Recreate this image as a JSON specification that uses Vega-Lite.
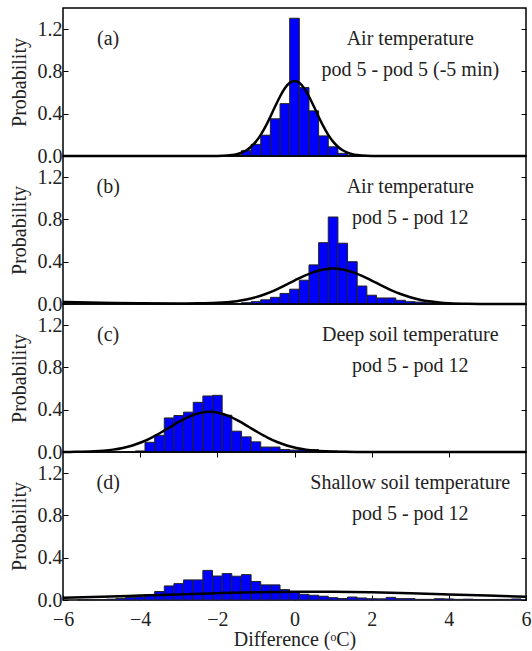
{
  "$schema": "https://vega.github.io/schema/vega-lite/v6.json",
  "padding": {"left": 8, "top": 7, "right": 0, "bottom": 0},
  "bounds": "flush",
  "spacing": 0,
  "datasets": {
    "barsA": [
      {"x": -1.625, "xe": -1.375, "p": 0.01},
      {"x": -1.375, "xe": -1.125, "p": 0.05},
      {"x": -1.125, "xe": -0.875, "p": 0.11},
      {"x": -0.875, "xe": -0.625, "p": 0.197},
      {"x": -0.625, "xe": -0.375, "p": 0.352},
      {"x": -0.375, "xe": -0.125, "p": 0.495},
      {"x": -0.125, "xe": 0.125, "p": 1.303},
      {"x": 0.125, "xe": 0.375, "p": 0.647},
      {"x": 0.375, "xe": 0.625, "p": 0.427},
      {"x": 0.625, "xe": 0.875, "p": 0.19},
      {"x": 0.875, "xe": 1.125, "p": 0.087},
      {"x": 1.125, "xe": 1.375, "p": 0.025},
      {"x": 1.375, "xe": 1.625, "p": 0.005}
    ],
    "curveA": [
      {"x": -6, "p": 0}, {"x": -2.5, "p": 0}, {"x": -2.0, "p": 0.001}, {"x": -1.75, "p": 0.0045},
      {"x": -1.625, "p": 0.009}, {"x": -1.5, "p": 0.017}, {"x": -1.375, "p": 0.031}, {"x": -1.25, "p": 0.054},
      {"x": -1.125, "p": 0.088}, {"x": -1.0, "p": 0.136}, {"x": -0.875, "p": 0.2}, {"x": -0.75, "p": 0.28},
      {"x": -0.625, "p": 0.372}, {"x": -0.5, "p": 0.47}, {"x": -0.375, "p": 0.563}, {"x": -0.25, "p": 0.64},
      {"x": -0.125, "p": 0.692}, {"x": 0, "p": 0.71}, {"x": 0.125, "p": 0.692}, {"x": 0.25, "p": 0.64},
      {"x": 0.375, "p": 0.563}, {"x": 0.5, "p": 0.47}, {"x": 0.625, "p": 0.372}, {"x": 0.75, "p": 0.28},
      {"x": 0.875, "p": 0.2}, {"x": 1.0, "p": 0.136}, {"x": 1.125, "p": 0.088}, {"x": 1.25, "p": 0.054},
      {"x": 1.375, "p": 0.031}, {"x": 1.5, "p": 0.017}, {"x": 1.625, "p": 0.009}, {"x": 1.75, "p": 0.0045},
      {"x": 2.0, "p": 0.001}, {"x": 2.5, "p": 0}, {"x": 6, "p": 0}
    ],
    "barsB": [
      {"x": -1.375, "xe": -1.125, "p": 0.012},
      {"x": -1.125, "xe": -0.875, "p": 0.022},
      {"x": -0.875, "xe": -0.625, "p": 0.04},
      {"x": -0.625, "xe": -0.375, "p": 0.063},
      {"x": -0.375, "xe": -0.125, "p": 0.1},
      {"x": -0.125, "xe": 0.125, "p": 0.14},
      {"x": 0.125, "xe": 0.375, "p": 0.225},
      {"x": 0.375, "xe": 0.625, "p": 0.37},
      {"x": 0.625, "xe": 0.875, "p": 0.58},
      {"x": 0.875, "xe": 1.125, "p": 0.823},
      {"x": 1.125, "xe": 1.375, "p": 0.575},
      {"x": 1.375, "xe": 1.625, "p": 0.4},
      {"x": 1.625, "xe": 1.875, "p": 0.17},
      {"x": 1.875, "xe": 2.125, "p": 0.083},
      {"x": 2.125, "xe": 2.375, "p": 0.057},
      {"x": 2.375, "xe": 2.625, "p": 0.057},
      {"x": 2.625, "xe": 2.875, "p": 0.035},
      {"x": 2.875, "xe": 3.125, "p": 0.022},
      {"x": 3.125, "xe": 3.375, "p": 0.018},
      {"x": 3.375, "xe": 3.625, "p": 0.012}
    ],
    "curveB": [
      {"x": -6, "p": 0.018}, {"x": -5, "p": 0.012}, {"x": -4, "p": 0.007}, {"x": -3, "p": 0.005},
      {"x": -2.5, "p": 0.006}, {"x": -2.0, "p": 0.011}, {"x": -1.75, "p": 0.017}, {"x": -1.5, "p": 0.027},
      {"x": -1.25, "p": 0.042}, {"x": -1.0, "p": 0.065}, {"x": -0.75, "p": 0.095}, {"x": -0.5, "p": 0.132},
      {"x": -0.25, "p": 0.176}, {"x": 0, "p": 0.222}, {"x": 0.25, "p": 0.266}, {"x": 0.5, "p": 0.302},
      {"x": 0.75, "p": 0.327}, {"x": 1.0, "p": 0.335}, {"x": 1.25, "p": 0.327}, {"x": 1.5, "p": 0.302},
      {"x": 1.75, "p": 0.266}, {"x": 2.0, "p": 0.222}, {"x": 2.25, "p": 0.176}, {"x": 2.5, "p": 0.132},
      {"x": 2.75, "p": 0.095}, {"x": 3.0, "p": 0.064}, {"x": 3.25, "p": 0.041}, {"x": 3.5, "p": 0.025},
      {"x": 3.75, "p": 0.015}, {"x": 4.0, "p": 0.008}, {"x": 4.5, "p": 0.002}, {"x": 5.0, "p": 0.0005},
      {"x": 6, "p": 0}
    ],
    "barsC": [
      {"x": -4.125, "xe": -3.875, "p": 0.01},
      {"x": -3.875, "xe": -3.625, "p": 0.092},
      {"x": -3.625, "xe": -3.375, "p": 0.158},
      {"x": -3.375, "xe": -3.125, "p": 0.322},
      {"x": -3.125, "xe": -2.875, "p": 0.345},
      {"x": -2.875, "xe": -2.625, "p": 0.377},
      {"x": -2.625, "xe": -2.375, "p": 0.47},
      {"x": -2.375, "xe": -2.125, "p": 0.53},
      {"x": -2.125, "xe": -1.875, "p": 0.536},
      {"x": -1.875, "xe": -1.625, "p": 0.348},
      {"x": -1.625, "xe": -1.375, "p": 0.197},
      {"x": -1.375, "xe": -1.125, "p": 0.143},
      {"x": -1.125, "xe": -0.875, "p": 0.096},
      {"x": -0.875, "xe": -0.625, "p": 0.047},
      {"x": -0.625, "xe": -0.375, "p": 0.047},
      {"x": -0.375, "xe": -0.125, "p": 0.024},
      {"x": -0.125, "xe": 0.125, "p": 0.018},
      {"x": 0.125, "xe": 0.375, "p": 0.022},
      {"x": 0.375, "xe": 0.625, "p": 0.022},
      {"x": 0.625, "xe": 0.875, "p": 0.013},
      {"x": 0.875, "xe": 1.125, "p": 0.009},
      {"x": 1.125, "xe": 1.375, "p": 0.006},
      {"x": 1.375, "xe": 1.625, "p": 0.004}
    ],
    "curveC": [
      {"x": -6, "p": 0.0004}, {"x": -5.7, "p": 0.0015}, {"x": -5.2, "p": 0.0064}, {"x": -4.95, "p": 0.0123},
      {"x": -4.7, "p": 0.0224}, {"x": -4.45, "p": 0.0383}, {"x": -4.2, "p": 0.062}, {"x": -3.95, "p": 0.0948},
      {"x": -3.7, "p": 0.137}, {"x": -3.45, "p": 0.187}, {"x": -3.2, "p": 0.241}, {"x": -2.95, "p": 0.294},
      {"x": -2.7, "p": 0.339}, {"x": -2.45, "p": 0.369}, {"x": -2.2, "p": 0.38}, {"x": -1.95, "p": 0.369},
      {"x": -1.7, "p": 0.339}, {"x": -1.45, "p": 0.294}, {"x": -1.2, "p": 0.241}, {"x": -0.95, "p": 0.187},
      {"x": -0.7, "p": 0.137}, {"x": -0.45, "p": 0.0948}, {"x": -0.2, "p": 0.062}, {"x": 0.05, "p": 0.0383},
      {"x": 0.3, "p": 0.0224}, {"x": 0.55, "p": 0.0123}, {"x": 0.8, "p": 0.0064}, {"x": 1.3, "p": 0.0015},
      {"x": 1.8, "p": 0.0003}, {"x": 6, "p": 0}
    ],
    "barsD": [
      {"x": -5.625, "xe": -5.375, "p": 0.002},
      {"x": -5.375, "xe": -5.125, "p": 0.003},
      {"x": -5.125, "xe": -4.875, "p": 0.004},
      {"x": -4.875, "xe": -4.625, "p": 0.008},
      {"x": -4.625, "xe": -4.375, "p": 0.016},
      {"x": -4.375, "xe": -4.125, "p": 0.026},
      {"x": -4.125, "xe": -3.875, "p": 0.03},
      {"x": -3.875, "xe": -3.625, "p": 0.048},
      {"x": -3.625, "xe": -3.375, "p": 0.08},
      {"x": -3.375, "xe": -3.125, "p": 0.133},
      {"x": -3.125, "xe": -2.875, "p": 0.155},
      {"x": -2.875, "xe": -2.625, "p": 0.19},
      {"x": -2.625, "xe": -2.375, "p": 0.19},
      {"x": -2.375, "xe": -2.125, "p": 0.28},
      {"x": -2.125, "xe": -1.875, "p": 0.227},
      {"x": -1.875, "xe": -1.625, "p": 0.25},
      {"x": -1.625, "xe": -1.375, "p": 0.225},
      {"x": -1.375, "xe": -1.125, "p": 0.24},
      {"x": -1.125, "xe": -0.875, "p": 0.175},
      {"x": -0.875, "xe": -0.625, "p": 0.143},
      {"x": -0.625, "xe": -0.375, "p": 0.143},
      {"x": -0.375, "xe": -0.125, "p": 0.098},
      {"x": -0.125, "xe": 0.125, "p": 0.07},
      {"x": 0.125, "xe": 0.375, "p": 0.054},
      {"x": 0.375, "xe": 0.625, "p": 0.045},
      {"x": 0.625, "xe": 0.875, "p": 0.036},
      {"x": 0.875, "xe": 1.125, "p": 0.022},
      {"x": 1.125, "xe": 1.375, "p": 0.014},
      {"x": 1.375, "xe": 1.625, "p": 0.028},
      {"x": 1.625, "xe": 1.875, "p": 0.019},
      {"x": 1.875, "xe": 2.125, "p": 0.012},
      {"x": 2.125, "xe": 2.375, "p": 0.011},
      {"x": 2.375, "xe": 2.625, "p": 0.025},
      {"x": 2.625, "xe": 2.875, "p": 0.013},
      {"x": 2.875, "xe": 3.125, "p": 0.013},
      {"x": 3.125, "xe": 3.375, "p": 0.006},
      {"x": 3.375, "xe": 3.625, "p": 0.006},
      {"x": 3.625, "xe": 3.875, "p": 0.012},
      {"x": 3.875, "xe": 4.125, "p": 0.01},
      {"x": 4.125, "xe": 4.375, "p": 0.006},
      {"x": 4.375, "xe": 4.625, "p": 0.008},
      {"x": 4.625, "xe": 4.875, "p": 0.005},
      {"x": 4.875, "xe": 5.125, "p": 0.005},
      {"x": 5.125, "xe": 5.375, "p": 0.006},
      {"x": 5.375, "xe": 5.625, "p": 0.006},
      {"x": 5.625, "xe": 5.875, "p": 0.01}
    ],
    "curveD": [
      {"x": -6, "p": 0.0208}, {"x": -5, "p": 0.0303}, {"x": -4, "p": 0.0414}, {"x": -3, "p": 0.0532},
      {"x": -2, "p": 0.0642}, {"x": -1, "p": 0.0727}, {"x": 0, "p": 0.0774}, {"x": 0.5, "p": 0.078},
      {"x": 1, "p": 0.0774}, {"x": 2, "p": 0.0727}, {"x": 3, "p": 0.0642}, {"x": 4, "p": 0.0532},
      {"x": 5, "p": 0.0414}, {"x": 6, "p": 0.0303}
    ]
  },
  "vconcat": [
    {
      "width": 463, "height": 148,
      "layer": [
        {"data": {"name": "barsA"}, "mark": {"type": "bar", "fill": "#0000ff", "stroke": "#222", "strokeWidth": 1},
         "encoding": {
           "x": {"field": "x", "type": "quantitative", "scale": {"domain": [-6, 6]}, "axis": null},
           "x2": {"field": "xe"},
           "y": {"field": "p", "type": "quantitative", "scale": {"domain": [0, 1.4]},
                 "axis": {"orient": "left", "values": [0, 0.4, 0.8, 1.2], "format": ".1f", "title": "Probability"}},
           "y2": {"datum": 0}}},
        {"data": {"name": "curveA"}, "mark": {"type": "line", "color": "#000", "strokeWidth": 2.5, "interpolate": "monotone"},
         "encoding": {
           "x": {"field": "x", "type": "quantitative", "axis": null},
           "y": {"field": "p", "type": "quantitative", "axis": {"orient": "right", "values": [0, 0.4, 0.8, 1.2], "labels": false, "title": null}}}},
        {"data": {"values": [{}]}, "mark": {"type": "text", "text": "(a)"},
         "encoding": {"x": {"datum": -4.83, "type": "quantitative", "axis": null}, "y": {"datum": 1.105, "type": "quantitative", "axis": null}}},
        {"data": {"values": [{}]}, "mark": {"type": "text", "text": "Air temperature"},
         "encoding": {"x": {"datum": 3.0, "type": "quantitative", "axis": null}, "y": {"datum": 1.105, "type": "quantitative", "axis": null}}},
        {"data": {"values": [{}]}, "mark": {"type": "text", "text": "pod 5 - pod 5 (-5 min)"},
         "encoding": {"x": {"datum": 3.0, "type": "quantitative", "axis": null}, "y": {"datum": 0.815, "type": "quantitative", "axis": null}}}
      ],
      "resolve": {"axis": {"x": "independent", "y": "independent"}}
    },
    {
      "width": 463, "height": 148,
      "layer": [
        {"data": {"name": "barsB"}, "mark": {"type": "bar", "fill": "#0000ff", "stroke": "#222", "strokeWidth": 1},
         "encoding": {
           "x": {"field": "x", "type": "quantitative", "scale": {"domain": [-6, 6]}, "axis": null},
           "x2": {"field": "xe"},
           "y": {"field": "p", "type": "quantitative", "scale": {"domain": [0, 1.4]},
                 "axis": {"orient": "left", "values": [0, 0.4, 0.8, 1.2], "format": ".1f", "title": "Probability"}},
           "y2": {"datum": 0}}},
        {"data": {"name": "curveB"}, "mark": {"type": "line", "color": "#000", "strokeWidth": 2.5, "interpolate": "monotone"},
         "encoding": {
           "x": {"field": "x", "type": "quantitative", "axis": null},
           "y": {"field": "p", "type": "quantitative", "axis": {"orient": "right", "values": [0, 0.4, 0.8, 1.2], "labels": false, "title": null}}}},
        {"data": {"values": [{}]}, "mark": {"type": "text", "text": "(b)"},
         "encoding": {"x": {"datum": -4.83, "type": "quantitative", "axis": null}, "y": {"datum": 1.105, "type": "quantitative", "axis": null}}},
        {"data": {"values": [{}]}, "mark": {"type": "text", "text": "Air temperature"},
         "encoding": {"x": {"datum": 3.0, "type": "quantitative", "axis": null}, "y": {"datum": 1.105, "type": "quantitative", "axis": null}}},
        {"data": {"values": [{}]}, "mark": {"type": "text", "text": "pod 5 - pod 12"},
         "encoding": {"x": {"datum": 3.0, "type": "quantitative", "axis": null}, "y": {"datum": 0.815, "type": "quantitative", "axis": null}}}
      ],
      "resolve": {"axis": {"x": "independent", "y": "independent"}}
    },
    {
      "width": 463, "height": 148,
      "layer": [
        {"data": {"name": "barsC"}, "mark": {"type": "bar", "fill": "#0000ff", "stroke": "#222", "strokeWidth": 1},
         "encoding": {
           "x": {"field": "x", "type": "quantitative", "scale": {"domain": [-6, 6]}, "axis": null},
           "x2": {"field": "xe"},
           "y": {"field": "p", "type": "quantitative", "scale": {"domain": [0, 1.4]},
                 "axis": {"orient": "left", "values": [0, 0.4, 0.8, 1.2], "format": ".1f", "title": "Probability"}},
           "y2": {"datum": 0}}},
        {"data": {"name": "curveC"}, "mark": {"type": "line", "color": "#000", "strokeWidth": 2.5, "interpolate": "monotone"},
         "encoding": {
           "x": {"field": "x", "type": "quantitative", "axis": null},
           "y": {"field": "p", "type": "quantitative", "axis": {"orient": "right", "values": [0, 0.4, 0.8, 1.2], "labels": false, "title": null}}}},
        {"data": {"values": [{}]}, "mark": {"type": "text", "text": "(c)"},
         "encoding": {"x": {"datum": -4.83, "type": "quantitative", "axis": null}, "y": {"datum": 1.105, "type": "quantitative", "axis": null}}},
        {"data": {"values": [{}]}, "mark": {"type": "text", "text": "Deep soil temperature"},
         "encoding": {"x": {"datum": 3.0, "type": "quantitative", "axis": null}, "y": {"datum": 1.105, "type": "quantitative", "axis": null}}},
        {"data": {"values": [{}]}, "mark": {"type": "text", "text": "pod 5 - pod 12"},
         "encoding": {"x": {"datum": 3.0, "type": "quantitative", "axis": null}, "y": {"datum": 0.815, "type": "quantitative", "axis": null}}}
      ],
      "resolve": {"axis": {"x": "independent", "y": "independent"}}
    },
    {
      "width": 463, "height": 148,
      "layer": [
        {"data": {"name": "barsD"}, "mark": {"type": "bar", "fill": "#0000ff", "stroke": "#222", "strokeWidth": 1},
         "encoding": {
           "x": {"field": "x", "type": "quantitative", "scale": {"domain": [-6, 6]},
                 "axis": {"orient": "bottom", "values": [-6, -4, -2, 0, 2, 4, 6], "title": "Difference (ᵒC)", "labelFlush": false, "labelOverlap": false, "labelBound": false, "labelPadding": 14, "titlePadding": 0}},
           "x2": {"field": "xe"},
           "y": {"field": "p", "type": "quantitative", "scale": {"domain": [0, 1.4]},
                 "axis": {"orient": "left", "values": [0, 0.4, 0.8, 1.2], "format": ".1f", "title": "Probability"}},
           "y2": {"datum": 0}}},
        {"data": {"name": "curveD"}, "mark": {"type": "line", "color": "#000", "strokeWidth": 2.5, "interpolate": "monotone"},
         "encoding": {
           "x": {"field": "x", "type": "quantitative", "axis": {"orient": "top", "values": [-4, -2, 0, 2, 4], "labels": false, "title": null}},
           "y": {"field": "p", "type": "quantitative", "axis": {"orient": "right", "values": [0, 0.4, 0.8, 1.2], "labels": false, "title": null}}}},
        {"data": {"values": [{}]}, "mark": {"type": "text", "text": "(d)"},
         "encoding": {"x": {"datum": -4.83, "type": "quantitative", "axis": null}, "y": {"datum": 1.105, "type": "quantitative", "axis": null}}},
        {"data": {"values": [{}]}, "mark": {"type": "text", "text": "Shallow soil temperature"},
         "encoding": {"x": {"datum": 3.0, "type": "quantitative", "axis": null}, "y": {"datum": 1.105, "type": "quantitative", "axis": null}}},
        {"data": {"values": [{}]}, "mark": {"type": "text", "text": "pod 5 - pod 12"},
         "encoding": {"x": {"datum": 3.0, "type": "quantitative", "axis": null}, "y": {"datum": 0.815, "type": "quantitative", "axis": null}}}
      ],
      "resolve": {"axis": {"x": "independent", "y": "independent"}}
    }
  ],
  "config": {
    "view": {"stroke": "#000", "strokeWidth": 1.5},
    "font": "Liberation Serif",
    "axis": {
      "labelFont": "Liberation Serif", "labelFontSize": 20, "labelColor": "#222",
      "titleFont": "Liberation Serif", "titleFontSize": 20, "titleFontWeight": "normal", "titleColor": "#222",
      "grid": false, "domain": false, "tickColor": "#000", "tickWidth": 1, "tickSize": -5,
      "labelPadding": 6, "titlePadding": 8
    },
    "text": {"font": "Liberation Serif", "fontSize": 20, "color": "#222", "align": "center", "baseline": "middle"}
  }
}
